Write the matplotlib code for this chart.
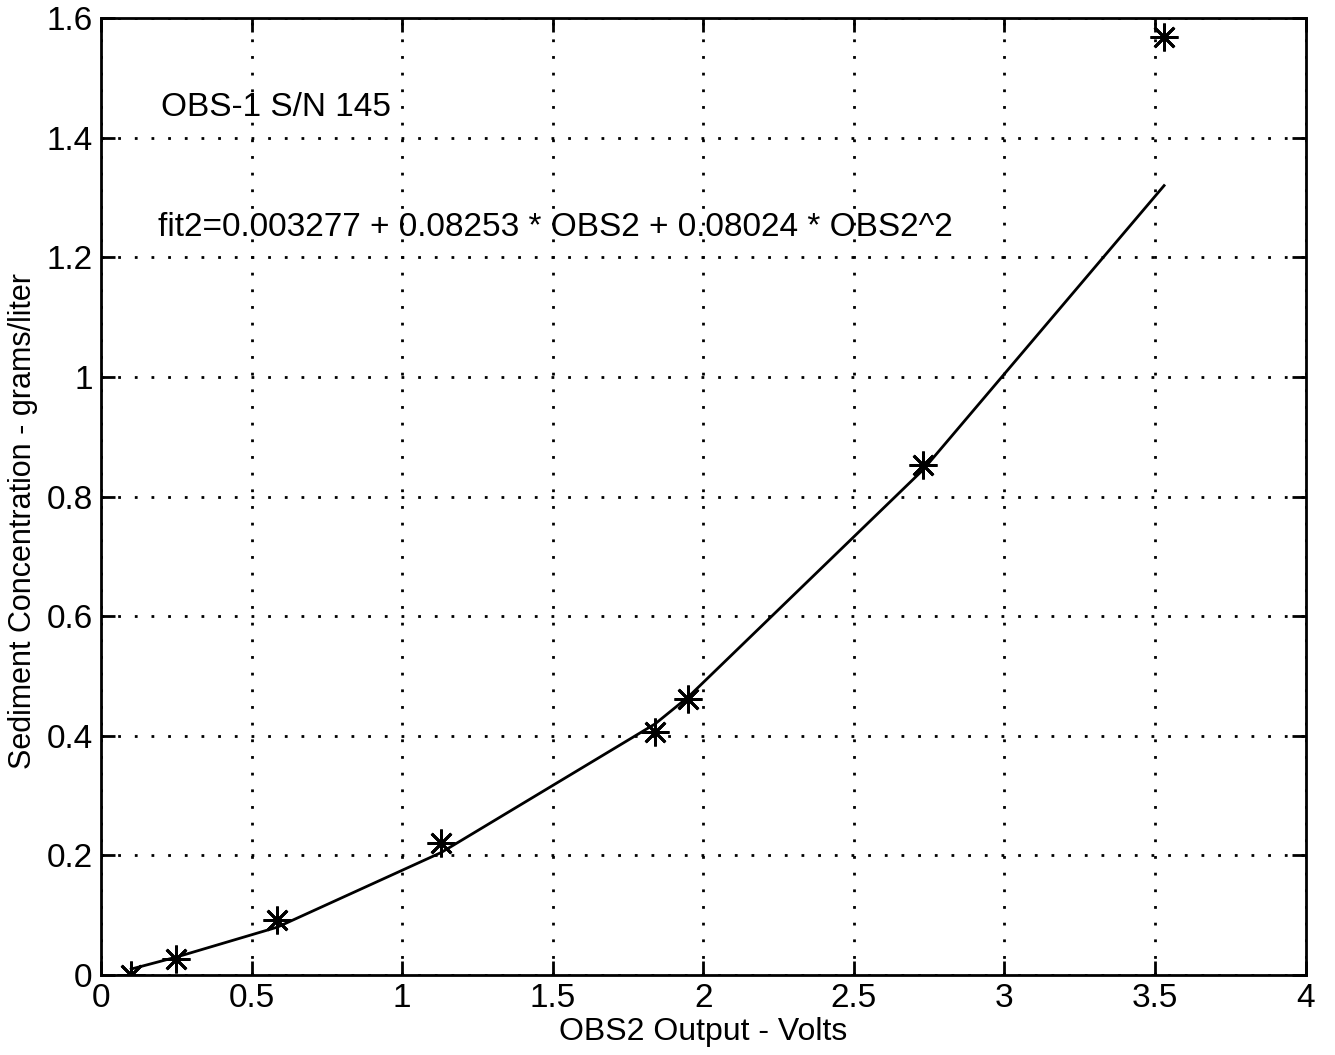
import numpy as np
import matplotlib
matplotlib.use('Agg')
import matplotlib.pyplot as plt

# measured points (OBS2 volts, grams/liter)
obs2_volts = [0.10, 0.25, 0.585, 1.13, 1.84, 1.95, 2.73, 3.53]
sed_conc = [0.0, 0.027, 0.092, 0.221, 0.406, 0.462, 0.852, 1.568]
# fitted curve values at the same volts
fit_conc = [0.01, 0.03, 0.08, 0.205, 0.42, 0.465, 0.845, 1.32]

xticks = [0, 0.5, 1, 1.5, 2, 2.5, 3, 3.5, 4]
xticklabels = ['0', '0.5', '1', '1.5', '2', '2.5', '3', '3.5', '4']
yticks = [0, 0.2, 0.4, 0.6, 0.8, 1.0, 1.2, 1.4, 1.6]
yticklabels = ['0', '0.2', '0.4', '0.6', '0.8', '1', '1.2', '1.4', '1.6']

plt.rcParams['font.family'] = ['Liberation Sans', 'DejaVu Sans']

fig = plt.figure(figsize=(13.35, 10.55), dpi=100)
ax = fig.add_axes([0.0757, 0.0758, 0.9023, 0.907])

ax.plot(obs2_volts, fit_conc, color='black', linewidth=2)
ax.plot(obs2_volts, sed_conc, linestyle='none', marker=(8, 2, 0), markersize=20,
        markeredgewidth=2, color='black')

ax.set_xlim(0, 4)
ax.set_ylim(0, 1.6)
ax.set_xticks(xticks)
ax.set_xticklabels(xticklabels)
ax.set_yticks(yticks)
ax.set_yticklabels(yticklabels)
ax.tick_params(direction='in', length=10, width=2, labelsize=24, pad=6,
               top=True, right=True)
ax.grid(True, linestyle=(0, (1, 5)), color='black', linewidth=2)
for s in ax.spines.values():
    s.set_linewidth(2)

ax.set_xlabel('OBS2 Output - Volts', fontsize=23, labelpad=2)
ax.set_ylabel('Sediment Concentration - grams/liter', fontsize=22)
ax.yaxis.set_label_coords(-0.052, 0.475)

ax.text(0.2, 1.45, 'OBS-1 S/N 145', fontsize=24, va='center')
ax.text(0.19, 1.25, 'fit2=0.003277 + 0.08253 * OBS2 + 0.08024 * OBS2^2',
        fontsize=24, va='center')

plt.savefig('out.png', dpi=100)
